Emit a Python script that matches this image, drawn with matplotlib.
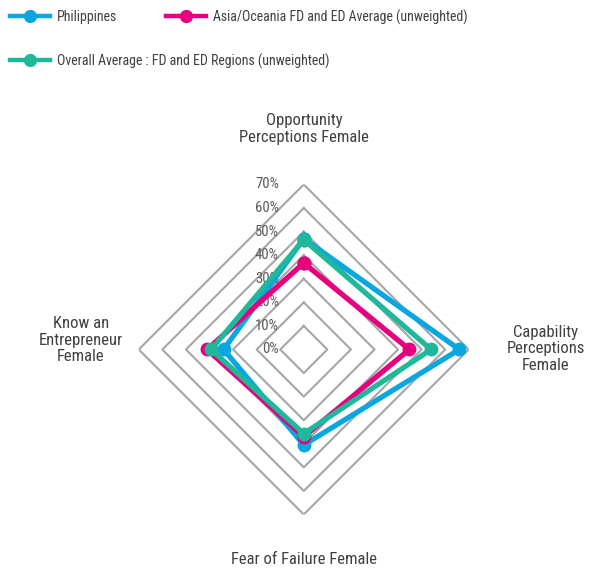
import numpy as np
import matplotlib
matplotlib.use("Agg")
import matplotlib.pyplot as plt
from matplotlib.lines import Line2D
from matplotlib.transforms import offset_copy
from matplotlib import font_manager

names = {f.name for f in font_manager.fontManager.ttflist}
FONT, STRETCH = "DejaVu Sans", "condensed"
for cand in ["Roboto Condensed", "Archivo Narrow", "Liberation Sans Narrow"]:
    if cand in names:
        FONT, STRETCH = cand, "normal"
        break
plt.rcParams['font.family'] = [FONT, 'DejaVu Sans']
plt.rcParams['font.stretch'] = STRETCH

categories = ["Opportunity\nPerceptions Female", "Capability\nPerceptions\nFemale",
              "Fear of Failure Female", "Know an\nEntrepreneur\nFemale"]
series_names = ["Philippines", "Asia/Oceania FD and ED Average (unweighted)",
                "Overall Average : FD and ED Regions (unweighted)"]
philippines = [47, 66, 40.5, 34]
asia_oceania = [36.7, 44.8, 37, 41]
overall = [46.6, 54, 35.7, 39.3]
colors = ["#0aa6e0", "#e6007e", "#1fb89b"]
rings = [10, 20, 30, 40, 50, 60, 70]
tick_labels = ["0%", "10%", "20%", "30%", "40%", "50%", "60%", "70%"]
tick_values = [0, 10, 20, 30, 40, 50, 60, 70]

fig = plt.figure(figsize=(6.10, 5.72), dpi=100)
ax = fig.add_axes([0.2275, 0.1005, 0.541, 0.577], projection='polar')
ax.set_theta_zero_location('N')
ax.set_theta_direction(-1)
ax.set_ylim(0, 70)
ax.grid(False)
ax.spines['polar'].set_visible(False)
ax.set_xticks([])
ax.set_yticks([])
ax.patch.set_visible(False)

n = len(categories)
angles = np.linspace(0, 2 * np.pi, n, endpoint=False)
closed = np.concatenate([angles, angles[:1]])

for r in rings:
    ax.plot(closed, [r] * (n + 1), color="#a6a6a6", lw=1.5, zorder=1)

off = offset_copy(ax.transData, fig=fig, x=-25, y=0, units='dots')
for v, lab in zip(tick_values, tick_labels):
    ax.text(0, v, lab, transform=off, ha='right', va='center', fontsize=10.5,
            color="#595959", zorder=2)

for vals, c, name in zip([philippines, asia_oceania, overall], colors, series_names):
    v = list(vals) + [vals[0]]
    ax.plot(closed, v, color=c, lw=3.8, marker='o', markersize=9, zorder=3,
            solid_joinstyle='miter', label=name)

# category labels
lab_kw = dict(ha='center', va='center', fontsize=12, color="#404040", linespacing=1.15)
fig.text(304 / 610, 1 - 129 / 572, categories[0], **lab_kw)
fig.text(546 / 610, 1 - 349 / 572, categories[1], **lab_kw)
fig.text(304 / 610, 1 - 559 / 572, categories[2], **lab_kw)
fig.text(81 / 610, 1 - 340 / 572, categories[3], **lab_kw)

handles = [Line2D([], [], color=c, lw=3.2, marker='o', markersize=8.5) for c in colors]
leg_kw = dict(loc='center left', frameon=False, fontsize=10, handlelength=2.9,
              handletextpad=0.5, borderaxespad=0, borderpad=0, labelcolor="#404040")
fig.legend(handles[:2], series_names[:2], bbox_to_anchor=(10 / 610, 1 - 17 / 572),
           ncol=2, columnspacing=3.5, **leg_kw)
fig.legend(handles[2:], series_names[2:], bbox_to_anchor=(10 / 610, 1 - 61 / 572),
           **leg_kw)

fig.savefig("out.png", dpi=100)
